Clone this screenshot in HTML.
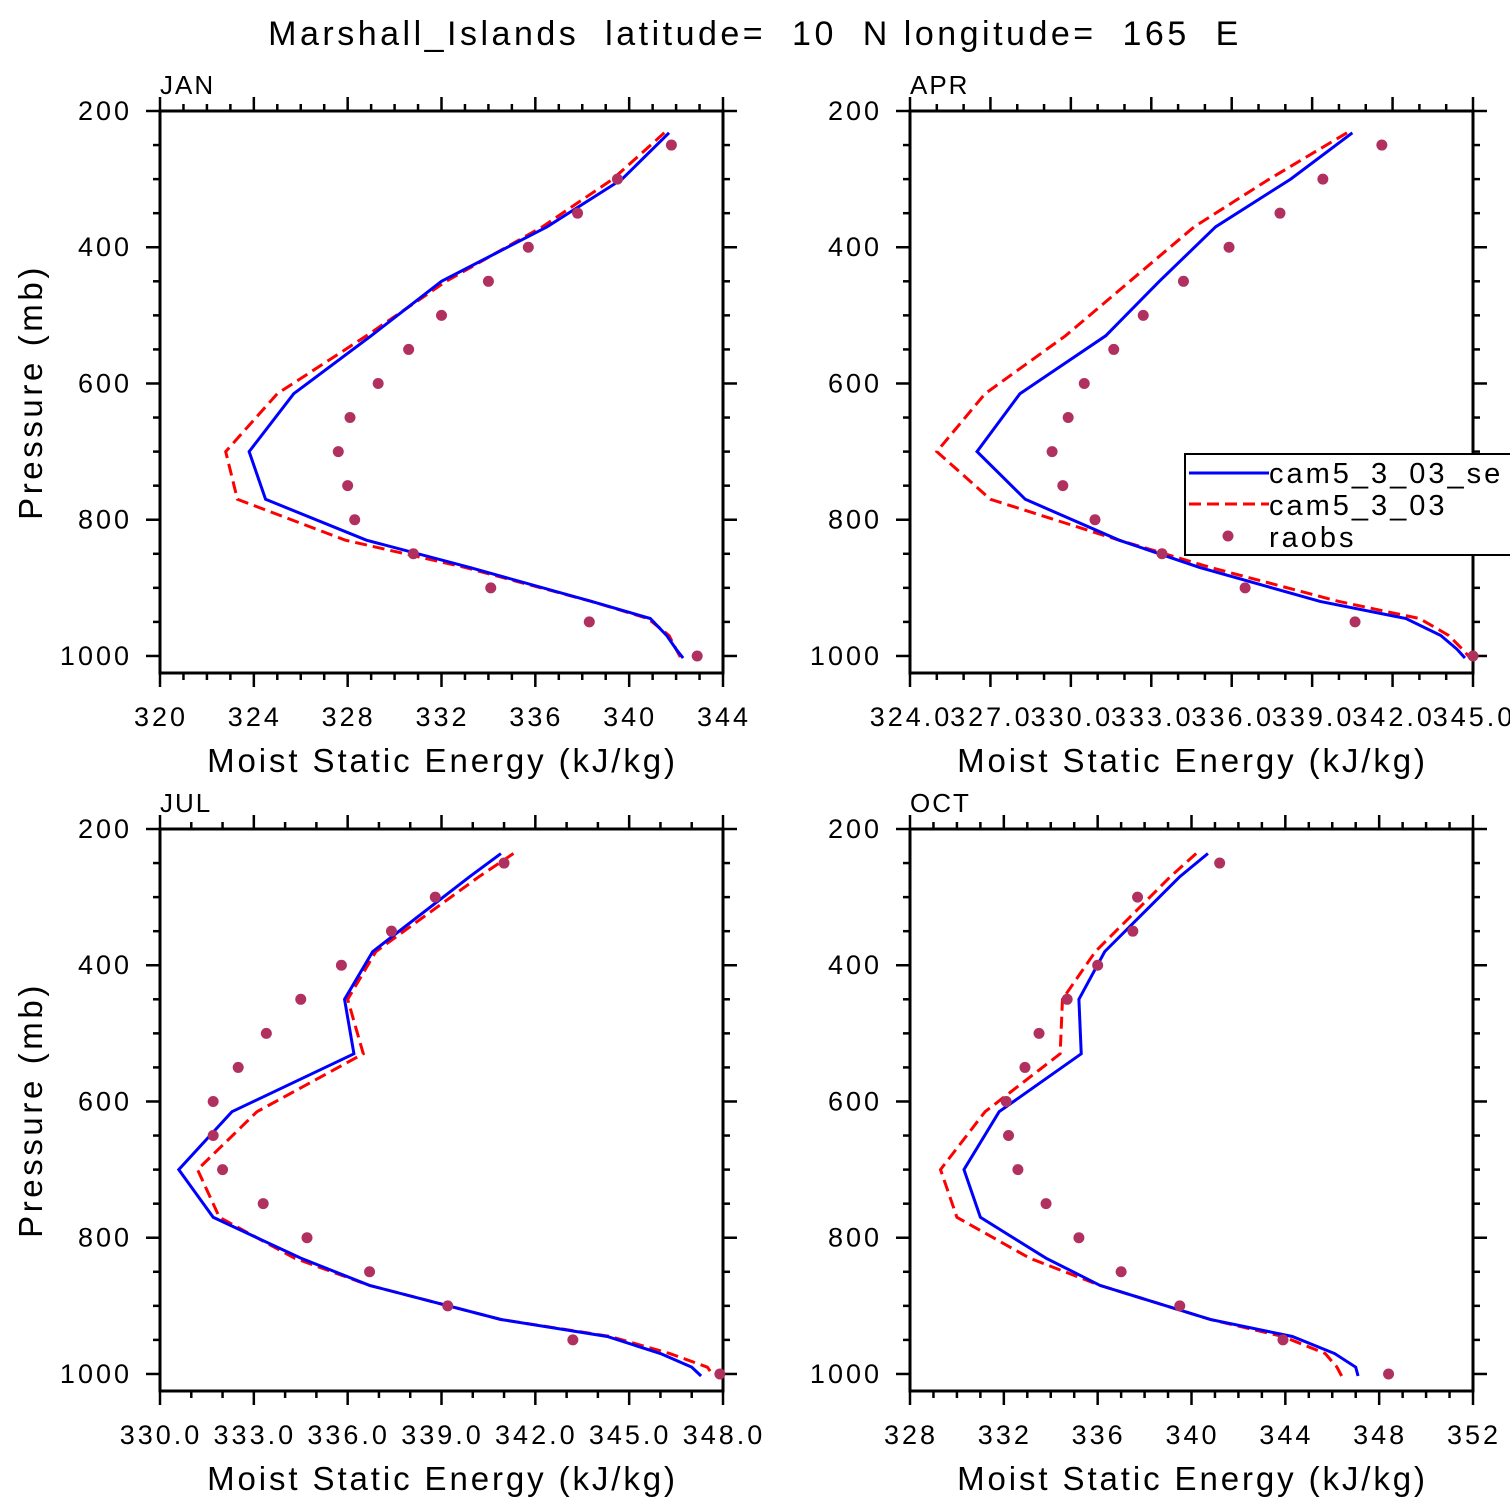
<!DOCTYPE html>
<html><head><meta charset="utf-8">
<style>
html,body{margin:0;padding:0;background:#fff;}
svg{display:block;font-family:"Liberation Sans","DejaVu Sans",sans-serif;}
text{white-space:pre;}
</style></head>
<body>
<svg id="chart" width="1510" height="1510" viewBox="0 0 1510 1510" xmlns="http://www.w3.org/2000/svg">
<rect width="1510" height="1510" fill="#fff"/>
<text x="755" y="45" text-anchor="middle" font-size="34" letter-spacing="3.5" xml:space="preserve">Marshall_Islands  latitude=  10  N longitude=  165  E</text>
<g id="panels"></g>
</svg>
<script>
// Observation pressures (mb)
const obsP = [250,300,350,400,450,500,550,600,650,700,750,800,850,900,950,1000];
// Model pressure levels per panel
const modP = [232,300,370,450,530,615,700,770,830,870,920,945,970,990,1003];
const modPJul = [236,270,380,450,530,615,700,770,830,870,920,945,970,990,1003];
const modPOct = [236,270,380,450,530,615,700,770,830,870,920,945,970,990,1003];

// JAN
const janSe  = [341.7,339.7,336.5,332.0,329.0,325.7,323.8,324.5,328.8,333.2,338.4,340.9,341.6,342.0,342.3];
const janCtl = [341.5,339.3,336.3,332.2,328.8,325.0,322.8,323.3,327.9,333.0,338.4,340.8,341.7,342.0,342.2];
const janObs = [341.8,339.5,337.8,335.7,334.0,332.0,330.6,329.3,328.1,327.6,328.0,328.3,330.8,334.1,338.3,342.9];
// APR
const aprSe  = [340.5,338.2,335.4,333.3,331.3,328.1,326.5,328.3,331.8,334.8,339.3,342.5,343.8,344.4,344.7];
const aprCtl = [340.3,337.4,334.6,332.2,329.8,326.8,325.0,327.0,331.8,335.2,340.0,343.0,344.1,344.6,344.9];
const aprObs = [341.6,339.4,337.8,335.9,334.2,332.7,331.6,330.5,329.9,329.3,329.7,330.9,333.4,336.5,340.6,345.0];
// JUL
const julSe  = [340.9,339.9,336.8,335.9,336.2,332.3,330.6,331.7,334.5,336.7,340.9,344.3,346.0,347.0,347.3];
const julCtl = [341.3,340.2,336.9,336.0,336.5,333.1,331.2,331.9,334.3,336.7,340.9,344.4,346.3,347.5,347.7];
const julObs = [341.0,338.8,337.4,335.8,334.5,333.4,332.5,331.7,331.7,332.0,333.3,334.7,336.7,339.2,343.2,347.9];
// OCT
const octSe  = [340.7,339.5,336.3,335.2,335.3,331.8,330.3,331.0,333.8,336.1,340.8,344.3,346.1,347.0,347.1];
const octCtl = [340.2,339.1,335.9,334.5,334.4,331.2,329.3,330.0,333.1,336.1,340.8,343.9,345.7,346.2,346.4];
const octObs = [341.2,337.7,337.5,336.0,334.7,333.5,332.9,332.1,332.2,332.6,333.8,335.2,337.0,339.5,343.9,348.4];

// Tick labels
const yTicks = [200,400,600,800,1000];
const janXTicks = ["320","324","328","332","336","340","344"];
const aprXTicks = ["324.0","327.0","330.0","333.0","336.0","339.0","342.0","345.0"];
const julXTicks = ["330.0","333.0","336.0","339.0","342.0","345.0","348.0"];
const octXTicks = ["328","332","336","340","344","348","352"];

const NS="http://www.w3.org/2000/svg";
const root=document.getElementById('panels');
function mk(tag,attrs,parent){const e=document.createElementNS(NS,tag);for(const k in attrs)e.setAttribute(k,attrs[k]);(parent||root).appendChild(e);return e;}

const panels=[
 {name:'jan',title:'JAN',x0:160,y0:111,xmin:320,xmax:344,major:4,minor:1,labels:janXTicks,p:modP,se:janSe,ctl:janCtl,obs:janObs,ylab:true},
 {name:'apr',title:'APR',x0:910,y0:111,xmin:324,xmax:345,major:3,minor:1,labels:aprXTicks,p:modP,se:aprSe,ctl:aprCtl,obs:aprObs,ylab:false,legend:true},
 {name:'jul',title:'JUL',x0:160,y0:829,xmin:330,xmax:348,major:3,minor:1,labels:julXTicks,p:modPJul,se:julSe,ctl:julCtl,obs:julObs,ylab:true},
 {name:'oct',title:'OCT',x0:910,y0:829,xmin:328,xmax:352,major:4,minor:1,labels:octXTicks,p:modPOct,se:octSe,ctl:octCtl,obs:octObs,ylab:false}
];
const W=563,H=562,PMIN=200,PMAX=1025;

panels.forEach(pn=>{
  const g=mk('g',{});
  
  
  const sx=v=>pn.x0+(v-pn.xmin)/(pn.xmax-pn.xmin)*W;
  const sy=p=>pn.y0+(p-PMIN)/(PMAX-PMIN)*H;
  const x1=pn.x0+W,y1=pn.y0+H;
  const cid='clip-'+pn.name;
  const cp=mk('clipPath',{id:cid},g);
  mk('rect',{x:pn.x0,y:pn.y0,width:W,height:H},cp);
  const tg=mk('g',{stroke:'#000','stroke-width':2.5},g);
  
  
  for(let v=pn.xmin;v<=pn.xmax+1e-6;v+=pn.minor){
    const isMaj=Math.abs(((v-pn.xmin)/pn.major)-Math.round((v-pn.xmin)/pn.major))<1e-6;
    const L=isMaj?14:7,x=sx(v);
    mk('line',{x1:x,x2:x,y1:pn.y0,y2:pn.y0-L},tg);
    mk('line',{x1:x,x2:x,y1:y1,y2:y1+L},tg);
  }
  for(let p=200;p<=1000;p+=50){
    const isMaj=p%200===0,L=isMaj?14:7,y=sy(p);
    mk('line',{x1:pn.x0,x2:pn.x0-L,y1:y,y2:y},tg);
    mk('line',{x1:x1,x2:x1+L,y1:y,y2:y},tg);
  }
  const fr=mk('rect',{x:pn.x0,y:pn.y0,width:W,height:H,fill:'none',stroke:'#000','stroke-width':3},g);
  
  
  yTicks.forEach(p=>{
    const t=mk('text',{x:pn.x0-28,y:sy(p)+9,'text-anchor':'end','font-size':27,'letter-spacing':3},g);
    
    
    t.textContent=p;
  });
  pn.labels.forEach((lab,i)=>{
    const v=pn.xmin+i*pn.major;
    const t=mk('text',{x:sx(v)+1,y:y1+53,'text-anchor':'middle','font-size':27,'letter-spacing':3},g);
    
    
    t.textContent=lab;
  });
  const xt=mk('text',{x:pn.x0+W/2+1,y:y1+99,'text-anchor':'middle','font-size':33,'letter-spacing':2.9},g);
  
  
  xt.textContent='Moist Static Energy (kJ/kg)';
  if(pn.ylab){
    const yt=mk('text',{x:0,y:0,'text-anchor':'middle','font-size':33,'letter-spacing':3.6,transform:`translate(42,${pn.y0+H/2}) rotate(-90)`},g);
    
    
    yt.textContent='Pressure (mb)';
  }
  const tt=mk('text',{x:pn.x0,y:pn.y0-17,'font-size':26,'letter-spacing':2},g);
  
  
  tt.textContent=pn.title;
  const dg=mk('g',{'clip-path':`url(#${cid})`},g);
  const ptsCtl=pn.ctl.map((v,i)=>sx(v)+','+sy(pn.p[i])).join(' ');
  const ptsSe=pn.se.map((v,i)=>sx(v)+','+sy(pn.p[i])).join(' ');
  const lc=mk('polyline',{points:ptsCtl,fill:'none',stroke:'#ff0000','stroke-width':3,'stroke-dasharray':'12,6'},dg);
  
  
  const ls=mk('polyline',{points:ptsSe,fill:'none',stroke:'#0000ff','stroke-width':3},dg);
  
  
  pn.obs.forEach((v,i)=>{
    const c=mk('circle',{cx:sx(v),cy:sy(obsP[i]),r:5.5,fill:'#b03060'},g);
    
    
  });
  if(pn.legend){
    const lg=mk('g',{},g);
    
    
    mk('rect',{x:1185,y:454,width:340,height:101,fill:'#fff',stroke:'#000','stroke-width':2},lg);
    mk('line',{x1:1189,x2:1269,y1:473,y2:473,stroke:'#0000ff','stroke-width':3},lg);
    mk('line',{x1:1189,x2:1269,y1:504,y2:504,stroke:'#ff0000','stroke-width':3,'stroke-dasharray':'12,6'},lg);
    mk('circle',{cx:1228,cy:536,r:5.5,fill:'#b03060'},lg);
    const labs=['cam5_3_03_se','cam5_3_03','raobs'];
    labs.forEach((s,i)=>{
      const t=mk('text',{x:1269,y:483+i*32,'font-size':29,'letter-spacing':3},lg);
      
      
      t.textContent=s;
    });
  }
});
</script>
</body></html>
